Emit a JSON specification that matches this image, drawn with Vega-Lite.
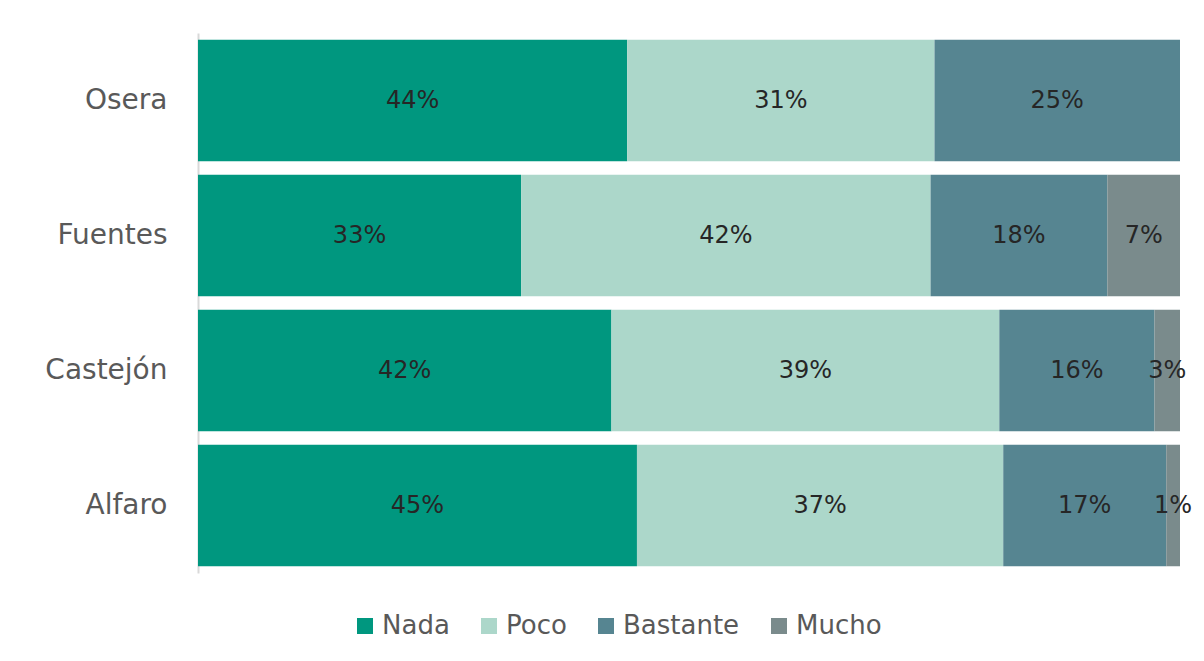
{
  "$schema": "https://vega.github.io/schema/vega-lite/v6.json",
  "width": 982,
  "height": 540,
  "autosize": {"type": "none"},
  "padding": {"left": 198, "top": 33, "right": 24, "bottom": 88},
  "background": "#ffffff",
  "config": {
    "view": {"stroke": null},
    "font": "DejaVu Sans"
  },
  "data": {
    "values": [
      {"zona": "Osera", "nivel": "Nada", "pct": 43.7, "label": "44%"},
      {"zona": "Osera", "nivel": "Poco", "pct": 31.3, "label": "31%"},
      {"zona": "Osera", "nivel": "Bastante", "pct": 25.0, "label": "25%"},
      {"zona": "Fuentes", "nivel": "Nada", "pct": 32.9, "label": "33%"},
      {"zona": "Fuentes", "nivel": "Poco", "pct": 41.7, "label": "42%"},
      {"zona": "Fuentes", "nivel": "Bastante", "pct": 18.0, "label": "18%"},
      {"zona": "Fuentes", "nivel": "Mucho", "pct": 7.4, "label": "7%"},
      {"zona": "Castejón", "nivel": "Nada", "pct": 42.1, "label": "42%"},
      {"zona": "Castejón", "nivel": "Poco", "pct": 39.5, "label": "39%"},
      {"zona": "Castejón", "nivel": "Bastante", "pct": 15.8, "label": "16%"},
      {"zona": "Castejón", "nivel": "Mucho", "pct": 2.6, "label": "3%"},
      {"zona": "Alfaro", "nivel": "Nada", "pct": 44.7, "label": "45%"},
      {"zona": "Alfaro", "nivel": "Poco", "pct": 37.3, "label": "37%"},
      {"zona": "Alfaro", "nivel": "Bastante", "pct": 16.6, "label": "17%"},
      {"zona": "Alfaro", "nivel": "Mucho", "pct": 1.4, "label": "1%"}
    ]
  },
  "transform": [
    {"calculate": "indexof(['Nada','Poco','Bastante','Mucho'], datum.nivel)", "as": "ord"},
    {"stack": "pct", "groupby": ["zona"], "sort": [{"field": "ord", "order": "ascending"}], "as": ["x0", "x1"]},
    {"calculate": "(datum.x0 + datum.x1) / 2", "as": "xmid"}
  ],
  "encoding": {
    "y": {
      "field": "zona",
      "type": "nominal",
      "sort": ["Osera", "Fuentes", "Castejón", "Alfaro"],
      "scale": {"paddingInner": 0.1, "paddingOuter": 0.05},
      "axis": {
        "title": null,
        "ticks": false,
        "domain": true,
        "domainColor": "#d9d9d9",
        "domainWidth": 2,
        "labelFontSize": 28,
        "labelColor": "#595959",
        "labelPadding": 31,
        "labelFont": "DejaVu Sans"
      }
    }
  },
  "layer": [
    {
      "mark": {"type": "bar"},
      "encoding": {
        "x": {"field": "x0", "type": "quantitative", "scale": {"domain": [0, 100], "nice": false}, "axis": null},
        "x2": {"field": "x1"},
        "color": {
          "field": "nivel",
          "type": "nominal",
          "scale": {"domain": ["Nada", "Poco", "Bastante", "Mucho"], "range": ["#00977f", "#acd7ca", "#568591", "#7a8b8c"]},
          "legend": {
            "title": null,
            "orient": "none",
            "direction": "horizontal",
            "legendX": 154,
            "legendY": 580,
            "symbolType": "square",
            "symbolSize": 256,
            "symbolStrokeWidth": 0,
            "labelFontSize": 26,
            "labelColor": "#595959",
            "labelOffset": 4,
            "columnPadding": 26,
            "labelFont": "DejaVu Sans"
          }
        }
      }
    },
    {
      "mark": {"type": "text", "fontSize": 24, "color": "#262626", "align": "center", "baseline": "middle"},
      "encoding": {
        "x": {"field": "xmid", "type": "quantitative"},
        "text": {"field": "label"}
      }
    }
  ]
}
